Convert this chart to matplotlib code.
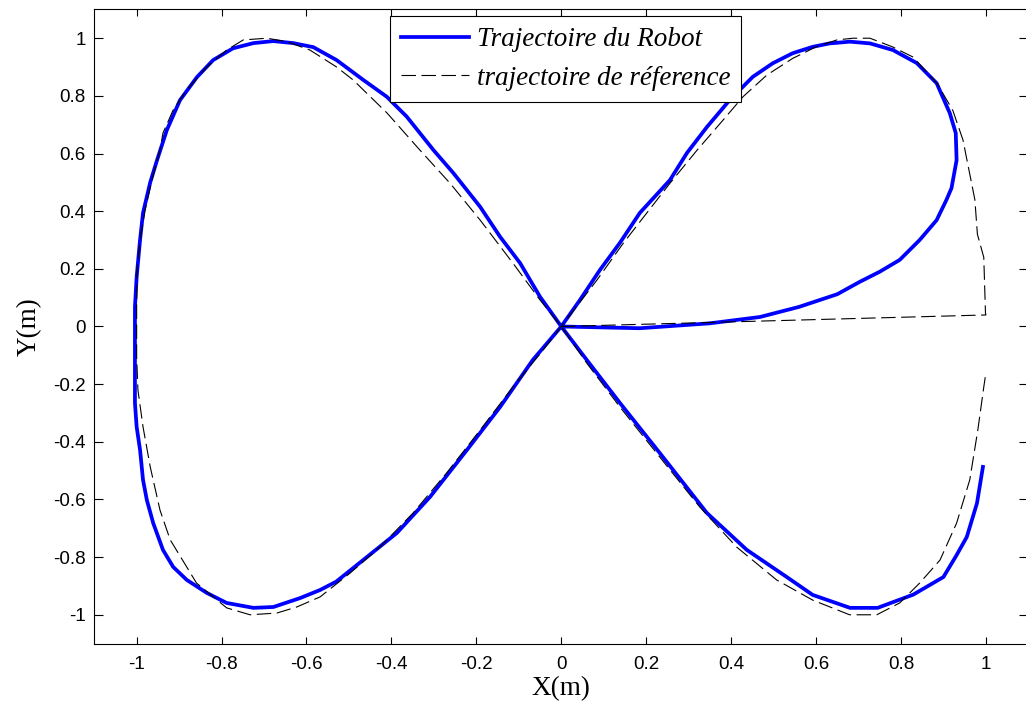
import numpy as np
import matplotlib.pyplot as plt

plt.rcParams['axes.unicode_minus'] = False

# robot path (x, y in metres), in travel order
rob_x = [0.0, 0.185, 0.35, 0.468, 0.56, 0.65, 0.703, 0.75, 0.797, 0.844, 0.884, 0.907,
         0.919, 0.931, 0.929, 0.915, 0.884, 0.837, 0.781, 0.727, 0.68, 0.632, 0.592,
         0.545, 0.498, 0.451, 0.397, 0.343, 0.296, 0.256, 0.185, 0.138, 0.091, 0.044, 0.0,
         -0.067, -0.144, -0.222, -0.309, -0.387, -0.458, -0.53, -0.568, -0.615, -0.678,
         -0.725, -0.788, -0.835, -0.882, -0.914, -0.938, -0.961, -0.976, -0.985, -0.992,
         -1.0, -1.004, -1.004, -1.004, -1.0, -0.992, -0.985, -0.968, -0.952, -0.929,
         -0.898, -0.858, -0.82, -0.773, -0.725, -0.678, -0.631, -0.584, -0.529, -0.466,
         -0.411, -0.364, -0.301, -0.254, -0.191, -0.144, -0.097, -0.05, 0.0,
         0.06, 0.138, 0.232, 0.343, 0.437, 0.531, 0.592, 0.68, 0.745, 0.829, 0.9, 0.931,
         0.955, 0.979, 0.993]
rob_y = [0.0, -0.006, 0.011, 0.033, 0.068, 0.112, 0.155, 0.19, 0.231, 0.3, 0.369, 0.439,
         0.48, 0.577, 0.671, 0.74, 0.844, 0.914, 0.959, 0.982, 0.988, 0.982, 0.97,
         0.948, 0.913, 0.866, 0.786, 0.692, 0.602, 0.508, 0.394, 0.29, 0.196, 0.092, 0.0,
         -0.116, -0.279, -0.428, -0.591, -0.716, -0.8, -0.885, -0.914, -0.942, -0.973,
         -0.976, -0.959, -0.924, -0.879, -0.834, -0.775, -0.682, -0.602, -0.532, -0.428,
         -0.348, -0.266, -0.082, 0.068, 0.172, 0.3, 0.394, 0.5, 0.577, 0.681,
         0.785, 0.865, 0.924, 0.965, 0.983, 0.99, 0.983, 0.969, 0.924, 0.855,
         0.797, 0.728, 0.612, 0.532, 0.415, 0.311, 0.22, 0.103, 0.0,
         -0.116, -0.265, -0.439, -0.647, -0.775, -0.869, -0.931, -0.976, -0.976, -0.93,
         -0.869, -0.793, -0.73, -0.613, -0.487]

# reference path
ref_x = [0.0, 1.0, 0.999, 0.995, 0.98, 0.974, 0.946, 0.922, 0.885, 0.828, 0.78, 0.727,
         0.687, 0.649, 0.6, 0.545, 0.484, 0.428, 0.381, 0.32, 0.256, 0.201, 0.146, 0.084, 0.0,
         -0.05, -0.114, -0.191, -0.27, -0.349, -0.427, -0.497, -0.568, -0.623, -0.67,
         -0.733, -0.788, -0.859, -0.921, -0.945, -0.968, -0.985, -0.997, -1.0, -1.0,
         -0.999, -0.992, -0.98, -0.964, -0.945, -0.938, -0.914, -0.882, -0.835, -0.788,
         -0.749, -0.693, -0.646, -0.592, -0.529, -0.49, -0.41, -0.333, -0.262, -0.191,
         -0.114, -0.05, 0.0,
         0.06, 0.138, 0.232, 0.326, 0.413, 0.507, 0.592, 0.679, 0.743, 0.797, 0.844,
         0.892, 0.931, 0.962, 0.981, 0.995, 1.0]
ref_y = [0.0, 0.04, 0.047, 0.24, 0.32, 0.44, 0.647, 0.75, 0.843, 0.935, 0.97, 1.0,
         1.0, 0.994, 0.97, 0.93, 0.872, 0.797, 0.716, 0.612, 0.497, 0.393, 0.289, 0.161, 0.0,
         -0.095, -0.21, -0.359, -0.508, -0.647, -0.765, -0.855, -0.938, -0.973, -0.994,
         -1.0, -0.976, -0.89, -0.74, -0.637, -0.487, -0.348, -0.22, -0.105, 0.08,
         0.196, 0.3, 0.404, 0.508, 0.612, 0.671, 0.751, 0.82, 0.9, 0.959,
         0.994, 1.0, 0.988, 0.959, 0.9, 0.855, 0.74, 0.612, 0.497, 0.369,
         0.22, 0.092, 0.0,
         -0.127, -0.279, -0.453, -0.626, -0.765, -0.879, -0.949, -1.0, -1.0, -0.959, -0.89,
         -0.81, -0.682, -0.532, -0.359, -0.21, -0.161]

ticks = np.round(np.arange(-1, 1.01, 0.2), 1)
tick_labels = ['-1', '-0.8', '-0.6', '-0.4', '-0.2', '0', '0.2', '0.4', '0.6', '0.8', '1']

fig = plt.figure(figsize=(10.26, 7.16), dpi=100)
ax = fig.add_axes([0.0918, 0.1011, 0.9105, 0.8858])

ax.plot(rob_x, rob_y, color='#0000ff', lw=2.7, label='Trajectoire du Robot', zorder=2)
ref_line, = ax.plot(ref_x, ref_y, color='black', lw=0.8, ls='--',
                    label='trajectoire de réference', zorder=3)
ref_line.set_dashes((13, 5))

ax.set_xlim(-1.1, 1.1)
ax.set_ylim(-1.1, 1.1)
ax.set_xticks(ticks)
ax.set_xticklabels(tick_labels)
ax.set_yticks(ticks)
ax.set_yticklabels(tick_labels)
ax.tick_params(direction='in', top=True, right=True, labelsize=13.5, width=0.8,
               colors='black')
ax.tick_params(axis='x', length=5, pad=9)
ax.tick_params(axis='y', length=6.5, pad=6)
for lab in ax.get_xticklabels() + ax.get_yticklabels():
    lab.set_family('Liberation Sans')
for sp in ax.spines.values():
    sp.set_linewidth(0.8)

ax.set_xlabel('X(m)', family='Liberation Serif', fontsize=19.5, labelpad=2)
ax.set_ylabel('Y(m)', family='Liberation Serif', fontsize=19.5, labelpad=8)

leg = ax.legend(loc='upper left', bbox_to_anchor=(0.3166, 0.9896), borderaxespad=0,
                prop={'family': 'Liberation Serif', 'style': 'italic', 'size': 19.5},
                fancybox=False, framealpha=1, edgecolor='black',
                handlelength=2.5, handletextpad=0.28, labelspacing=0.5,
                borderpad=0.42)
leg.get_frame().set_linewidth(0.8)

fig.savefig('out.png', dpi=100)
